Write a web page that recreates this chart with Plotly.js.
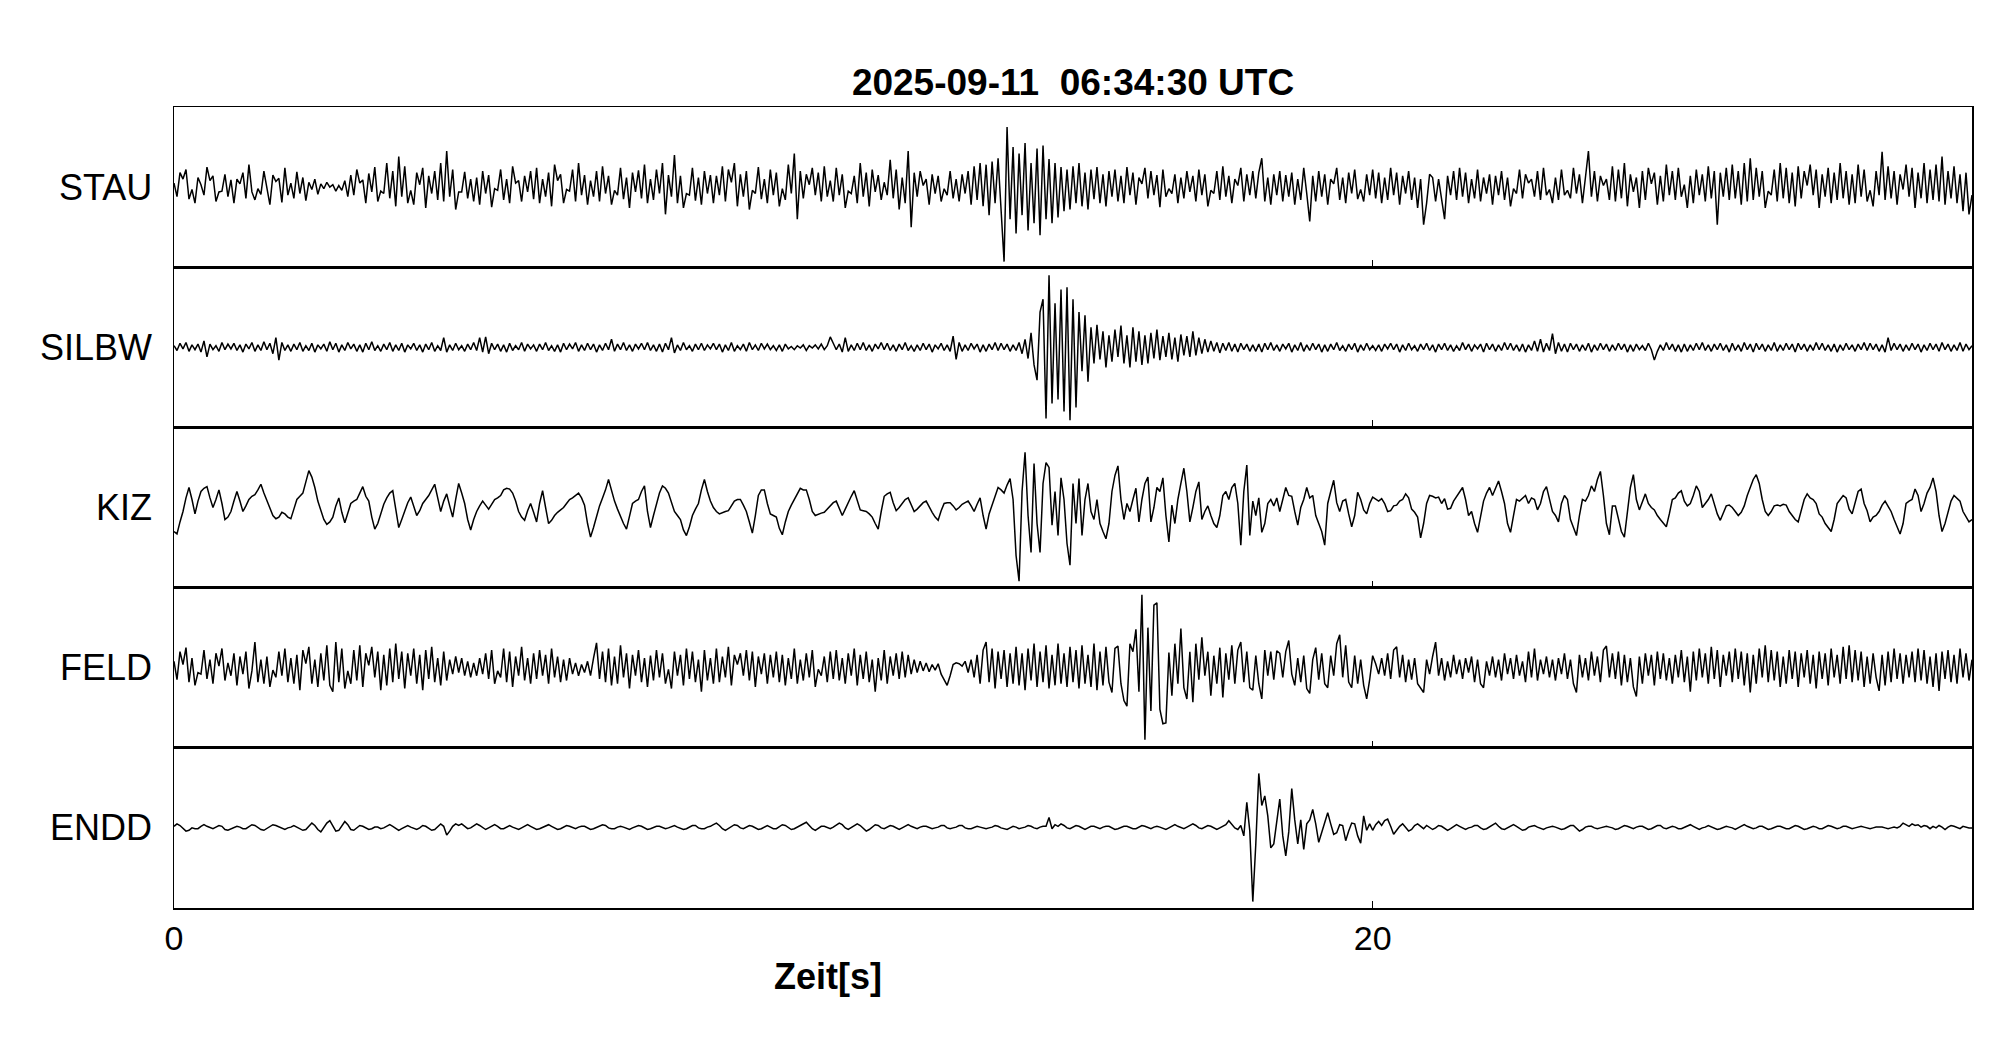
<!DOCTYPE html>
<html>
<head>
<meta charset="utf-8">
<script src="https://cdn.plot.ly/plotly-3.0.1.min.js"></script>
<style>html,body{margin:0;padding:0;background:#fff;}#chart{width:2005px;height:1041px;}</style>
</head>
<body>
<div id="chart"></div>
<script>
// Title, station names and axis
const chartTitle = "2025-09-11\u00A0\u00A006:34:30 UTC";
const stations = ["STAU", "SILBW", "KIZ", "FELD", "ENDD"];
const xTickVals = [0, 20];
const xTickText = ["0", "20"];
const xTitle = "Zeit[s]";
const sampleInterval = 0.05; // seconds between samples
const timeSpan = [0, 30];

// Trace amplitudes (percent of half panel height), one row per second
const STAU = [
5,-12,18,10,22,-15,-3,-20,12,3,-10,25,8,14,-18,-6,-5,16,-12,9,
-20,10,4,18,-14,28,-6,-16,-2,-9,20,-3,-22,15,7,11,-19,24,-10,5,
-14,19,-8,12,-17,6,-3,10,-9,4,-2,6,0,3,-5,2,-4,8,-12,15,
-10,22,5,9,-20,17,-6,25,-18,-5,-8,30,-14,20,-24,38,-12,26,-20,-4,
-22,18,3,24,-26,14,-8,20,-16,30,-18,45,-12,22,-28,-6,-6,19,-14,10,
-18,12,-22,20,-8,15,-25,-2,-4,22,-16,10,-20,26,5,8,-18,14,-6,20,
-15,24,-20,10,-12,18,-24,28,8,16,-20,-3,-5,22,-18,30,-10,15,-22,8,
-12,20,-18,26,-8,14,-22,-4,-10,24,-15,12,-26,18,-6,21,-14,28,-20,10,
-16,22,-8,30,-34,15,-12,40,-20,14,-26,-8,-10,24,-17,12,-22,20,-8,15,
-20,14,-10,26,-18,22,6,30,-24,16,-12,20,-28,-4,-8,25,-15,10,-20,22,
-10,18,-24,-2,-16,28,-8,42,-40,20,-14,16,3,24,-10,18,-18,26,-12,8,
-18,24,-10,16,-26,-5,-8,14,-20,30,-12,18,-24,22,-6,15,-16,6,-10,34,
-14,22,-28,12,-20,45,-50,18,-12,20,2,10,-22,16,-8,14,-18,-2,-10,20,
-14,10,-18,16,-8,20,-22,26,-16,30,-24,28,-35,32,-20,36,-30,-93,75,-40,
50,-58,42,-35,55,-54,30,-45,48,-60,52,-40,35,-45,30,-38,25,-30,22,-28,
26,-20,30,-24,18,-28,22,-15,25,-20,16,-24,20,-12,22,-18,14,-20,25,-10,
18,-22,12,4,24,-14,20,-10,15,-25,22,-12,-2,-8,16,-20,12,-14,20,-6,
14,-18,22,-10,16,-24,-4,-8,20,-16,26,-12,14,-20,10,2,24,-18,16,-10,
20,-14,18,36,-18,12,-22,16,-10,20,-18,15,-12,18,-22,10,-16,24,-8,-43,
14,-18,20,-12,16,-22,10,4,24,-16,12,-20,18,-8,22,-15,-3,-18,16,-10,
22,-14,18,-20,12,-16,24,-10,18,-22,14,-8,20,-16,12,-26,10,-47,-20,16,
12,-18,10,-14,-40,14,-10,20,-16,24,-12,18,-20,10,-14,22,-18,12,-8,16,
-22,14,-10,20,-16,12,-24,-2,-8,22,-14,16,5,10,-12,20,-16,24,-10,-3,
-20,12,-16,22,-10,-4,-14,24,-8,16,-20,12,45,-12,20,-18,14,2,10,-16,
26,-18,22,-14,30,-24,16,-6,12,-26,20,-16,24,4,18,-22,14,-18,28,-10,
20,-16,24,-12,3,-26,14,-20,22,-10,16,-18,26,-14,20,-47,18,-12,24,-16,
28,-14,20,-22,30,-18,36,-16,24,-12,20,-26,-5,-10,22,-18,30,-14,24,-20,
18,-24,26,-14,20,2,28,-10,22,-26,16,-12,24,-20,18,-16,30,-14,20,-22,
16,-20,28,-12,22,-18,-4,-24,20,-10,44,-16,26,-14,20,-22,16,-3,28,-12,
24,-26,18,-14,30,-20,22,-16,28,-18,38,-22,20,-14,26,-20,16,-30,18,-34,
-10];

const SILBW = [
2,-4,5,-2,6,-5,3,-3,4,-6,8,-12,4,-3,2,-5,6,-3,4,-2,
5,-4,3,-6,4,-2,6,-5,3,-4,7,-3,5,-8,12,-16,6,-4,3,-5,
4,-3,6,-5,2,-4,5,-6,3,-2,4,-5,7,-3,5,-6,3,-4,6,-2,
4,-5,3,-6,5,-3,7,-4,2,-5,4,-3,6,-5,3,-4,5,-6,3,-2,
5,-4,3,-6,4,-3,6,-5,2,-4,12,-6,3,-4,5,-3,2,-5,4,-3,
6,-4,12,-6,13,-8,5,-3,4,-5,3,-6,5,-4,2,-3,6,-5,4,-2,
3,-5,4,-3,6,-4,2,-5,3,-6,5,-3,4,-2,6,-5,3,-4,5,-3,
4,-6,3,-4,5,-3,10,-5,4,-3,6,-4,3,-5,4,-2,5,-3,6,-4,
3,-5,4,-6,5,-3,12,-7,3,-4,6,-3,2,-5,4,-3,5,-4,3,-2,
5,-3,4,-6,3,-4,6,-5,2,-3,4,-5,6,-3,3,-4,5,-2,4,-3,
2,-4,3,-5,4,-2,1,-3,2,-1,3,-4,2,-1,3,-2,4,-3,2,13,
5,-3,4,-6,12,-5,3,-4,5,-3,6,-4,3,-5,4,-2,6,-3,5,-4,
3,-5,4,-3,6,-4,2,-5,3,-4,5,-3,4,-6,3,-2,5,-4,3,-5,
14,-15,6,-5,3,-4,5,-2,4,-6,3,-5,4,-3,6,-4,5,-3,4,-5,
3,-4,6,-8,10,-14,18,-22,-41,44,60,-89,90,-70,55,-65,72,-80,75,-91,
60,-75,44,-30,40,-43,25,-20,28,-15,20,-25,15,-18,22,-12,27,-20,15,-25,
25,-18,20,-22,15,-20,18,-14,22,-16,14,-12,18,-15,12,-18,16,-10,14,-12,
20,-10,12,-8,10,-6,8,-5,6,-7,5,-4,6,-5,4,-6,5,-3,4,-5,
3,-5,4,-6,5,-3,6,-4,3,-5,4,-2,5,-6,3,-4,6,-5,3,-4,
5,-3,4,-6,3,-5,4,-3,6,-4,2,-5,4,-3,5,-6,3,-4,5,-3,
2,-4,3,-5,4,-2,5,-3,4,-6,3,-4,5,-3,2,-5,4,-3,5,-4,
3,-6,4,-3,5,-4,3,-5,2,-4,6,-3,4,-5,3,-2,4,-6,5,-3,
4,-5,3,-4,6,-3,5,-4,3,-5,4,-6,3,-4,8,-5,10,-6,5,-4,
17,-8,6,-5,4,-6,5,-3,4,-5,3,-4,5,-6,3,-4,5,-3,4,-5,
3,-4,5,-3,4,-6,3,-5,4,-3,2,-4,5,-3,-16,-5,3,-4,6,-3,
4,-5,3,-6,4,-5,3,-4,5,-3,6,-4,3,-5,4,-3,5,-4,3,-6,
5,-4,3,-5,6,-3,4,-6,5,-3,4,-5,3,-4,6,-5,3,-4,5,-3,
4,-6,5,-3,4,-5,3,-4,6,-3,5,-4,3,-5,4,-6,3,-4,5,-3,
3,-5,4,-3,6,-4,5,-3,4,-5,3,-6,12,-4,5,-3,4,-5,3,-4,
5,-3,4,-6,3,-4,5,-3,4,-5,6,-3,4,-5,3,-4,6,-5,4,-3,
2];

const KIZ = [
-30,-33,-18,-5,12,25,10,-8,8,20,24,26,12,0,10,22,5,-15,-12,-5,
8,20,8,-5,2,10,14,16,22,29,18,8,-2,-10,-14,-12,-6,-8,-12,-14,
-2,10,14,18,32,46,38,25,8,-5,-15,-21,-18,-12,2,12,-6,-19,-8,5,
8,10,18,26,14,8,-12,-27,-20,-8,4,12,18,21,-5,-25,-15,-5,6,13,
2,-10,-4,5,10,15,22,29,12,-5,8,17,2,-12,10,30,18,5,-15,-28,
-15,-5,2,8,3,-2,4,10,12,15,22,24,23,18,8,-5,-12,-16,-4,5,
-6,-18,5,21,0,-20,-16,-10,-6,-3,0,5,10,12,15,18,12,3,-20,-37,
-25,-10,2,12,22,35,20,8,-2,-12,-20,-27,-10,5,8,10,20,27,-5,-25,
-10,5,18,27,24,18,6,-5,-10,-15,-28,-35,-24,-10,-2,5,22,35,20,8,
0,-5,-8,-6,-5,-4,2,8,10,10,3,-5,-18,-32,-10,15,22,22,5,-8,
-10,-12,-26,-34,-18,-5,3,10,18,24,22,22,10,-5,-10,-8,-7,-6,-2,2,
6,8,-2,-10,-2,5,14,21,8,-3,-4,-5,-8,-12,-20,-27,-5,14,17,19,
6,-4,0,5,10,12,4,-5,-2,2,6,8,0,-6,-12,-16,-4,5,6,6,
2,-3,0,4,6,8,2,-5,4,12,-10,-27,-8,4,15,25,22,18,28,36,
10,-60,-92,20,69,-10,-56,55,-20,-56,30,56,50,-22,20,-35,37,10,-45,-72,
30,-20,36,-35,10,30,-5,-15,10,-20,-30,-39,-20,20,40,52,10,-15,5,-5,
10,24,-18,10,30,38,-18,0,25,20,37,-10,-43,3,-20,10,30,49,20,-18,
0,20,32,-15,-5,2,-10,-20,-25,-10,15,20,10,25,30,5,-47,20,53,-35,
8,-10,12,-31,-20,5,10,2,12,-5,10,25,15,14,-5,-22,0,10,25,12,
15,-10,-20,-30,-47,5,20,34,6,-5,8,10,-8,-24,-10,19,10,-3,-8,5,
13,10,8,11,5,-5,-4,2,3,8,10,17,12,-2,-6,-12,-38,-20,5,15,
14,12,13,5,11,-2,-1,8,14,20,25,10,-10,-5,-20,-31,-10,8,18,25,
15,25,33,20,5,-20,-31,-10,10,8,12,15,5,12,10,-3,5,20,26,10,
-5,-10,-18,5,15,10,-15,-25,-35,-10,10,8,15,27,20,35,45,15,-20,-34,
2,2,-15,-30,-37,-5,25,41,10,-3,8,17,5,0,-3,-10,-15,-20,-24,-8,
10,12,18,21,8,2,5,15,27,20,0,5,10,17,5,-8,-16,-8,2,3,
0,-5,-10,-6,2,15,25,35,41,30,10,-5,-10,-5,2,3,2,4,3,-5,
-10,-15,-18,-5,10,17,12,10,5,-8,-12,-20,-25,-30,-15,5,10,15,12,-2,
-8,5,20,23,5,-4,-18,-12,-10,-5,3,8,2,-5,-15,-25,-33,-20,5,8,
10,23,15,-5,5,18,25,37,20,-10,-30,-20,-5,8,15,12,8,-5,-12,-18,
-15];

const FELD = [
8,-15,20,4,25,-18,12,-22,-6,-8,22,-14,10,-20,18,2,24,-16,6,-10,
18,-22,14,-8,20,-26,-4,32,-18,10,-20,14,-24,-3,-12,20,-10,24,-18,12,
-20,16,-28,22,5,26,-20,10,-24,18,-16,28,-22,-30,32,-18,24,-26,-4,-20,
22,-16,28,-24,18,3,26,-12,20,-28,16,-22,24,-18,30,-14,20,-26,18,-10,
24,-20,16,-28,22,-14,26,-18,12,-22,20,-16,10,-8,14,-6,12,-10,8,-12,
6,-10,12,-8,18,-14,22,-20,-4,-12,24,-18,20,-24,14,-10,26,-16,12,-20,
18,-14,22,-10,16,-20,24,-12,14,-18,10,-16,12,-8,6,-10,4,-6,8,-10,
12,31,-14,20,-18,24,-22,14,-20,28,-12,18,-26,16,-10,22,-18,12,-24,15,
-16,22,-12,18,-20,-2,-26,20,-10,16,-22,24,-14,20,-18,10,-30,22,-16,12,
-20,24,-18,14,-12,26,-22,16,4,18,-10,22,-16,20,-24,14,-8,18,-20,16,
-12,20,-18,16,-22,12,-14,24,-20,10,-16,18,-12,22,-24,-2,-10,14,-18,20,
-14,22,-16,12,-20,18,-10,24,-22,16,-14,20,-18,10,-30,12,-16,22,-20,14,
-10,18,-14,20,-12,16,-8,10,-6,8,-4,6,-5,4,-3,5,-8,-15,-22,-10,
4,6,5,2,8,-6,10,-12,16,-20,22,32,-18,24,-26,20,-14,22,-24,18,
-20,26,-22,18,-28,24,-16,30,-24,20,-18,28,-26,16,-22,30,-20,18,-24,26,
-18,22,-26,28,-20,16,-24,30,-28,20,-22,26,-18,-31,24,27,-20,-41,-48,30,
20,48,-30,91,-90,50,-54,78,81,-52,-70,-69,19,-35,30,-20,49,-25,-39,20,
-43,30,-15,38,-10,20,-35,15,-20,25,-37,18,-15,28,-20,22,32,-18,20,-25,
-28,15,-20,-39,22,-10,20,-15,21,18,-12,20,34,-8,-22,12,-18,15,-26,-32,
10,25,-15,18,-20,-25,15,-10,30,41,-12,28,-18,-25,15,-20,10,-22,-39,-15,
15,5,-8,12,-10,18,-14,22,26,-12,16,-18,10,-15,12,-20,-26,-31,10,-8,
14,32,-10,12,-16,8,-12,16,-8,10,-14,12,-6,14,-18,10,-20,-25,8,-10,
14,-12,10,-16,18,-8,12,-14,16,-10,8,-18,20,-12,24,-16,10,-8,14,-12,
10,-16,12,-8,18,-14,10,-20,-31,16,-12,12,-16,20,-10,14,-18,22,27,-12,
18,-14,20,-22,16,-18,12,-24,-36,14,-20,18,-10,16,-22,20,-14,18,-16,12,
-20,16,-12,22,-18,14,-30,20,-16,24,-12,18,-20,26,-14,22,-24,16,-10,20,
-18,24,-14,20,-22,18,-31,16,-20,24,-12,28,-18,22,-16,20,-24,14,-20,22,
-14,20,-24,18,-12,22,-20,16,-26,20,-14,18,-22,24,-12,16,-20,26,-14,28,
-18,22,-16,20,-24,14,-20,18,-12,-29,16,-22,20,-18,24,-14,18,-20,16,-12,
20,-18,24,-16,22,-20,14,-24,18,-29,20,-14,22,-18,16,-20,24,-12,18,-16,
10];

const ENDD = [
2,5,3,0,-4,-3,0,-1,-1,2,4,2,0,-1,1,3,2,-2,-3,-1,
1,2,1,-1,-1,2,4,3,0,-2,-3,-1,1,4,3,1,-1,-2,0,1,
3,1,-1,-3,-2,2,6,3,-2,-5,0,6,9,2,-4,-3,3,8,4,-2,
-3,0,3,2,0,-2,-1,1,1,-1,0,2,4,2,-1,-3,-1,1,3,1,
-1,-2,0,3,2,0,-3,-2,2,5,2,-9,-4,2,5,3,5,2,-1,0,
3,5,3,0,-2,0,2,4,2,-1,-1,1,3,1,-1,-2,0,2,4,2,
0,-2,-1,1,2,4,2,0,-2,-1,1,3,2,0,-1,1,2,2,0,-2,
-1,1,2,4,3,0,-1,-1,1,2,1,-1,-2,0,2,3,2,0,-2,-1,
1,2,2,0,-1,0,2,3,1,-1,-2,-1,1,3,3,0,-1,-1,1,2,
4,6,3,-1,-3,-1,1,4,3,0,-1,1,3,2,0,-2,-1,1,3,1,
-1,-1,1,4,3,0,-2,-1,1,3,5,7,3,-1,-3,0,2,2,0,-1,
1,4,6,4,0,-2,0,3,5,3,-1,-4,-2,1,4,3,0,-1,1,3,
2,0,-2,0,2,4,2,0,-1,1,2,2,0,-1,0,1,3,3,0,-1,
0,1,3,3,0,-1,-1,1,2,1,0,-1,0,1,3,2,0,-1,-2,0,
2,1,-1,0,1,3,2,0,-1,1,2,2,13,-1,4,2,5,3,0,-1,
1,3,2,0,-2,0,2,2,0,-1,1,2,2,0,-2,-1,1,2,2,0,
-1,-1,1,3,2,0,-1,1,2,1,-1,-2,0,2,4,2,0,-1,1,3,
5,3,0,-1,1,3,2,0,-2,0,2,4,9,4,0,-2,3,-10,32,-4,
-92,-20,68,28,40,15,-25,-20,10,36,-10,-35,-5,49,10,-20,10,-27,5,10,
23,5,-18,-5,8,19,5,-8,-6,4,3,-16,-4,6,5,-10,-19,15,-3,5,
-3,4,8,3,9,11,2,-8,-3,2,5,1,-4,-2,3,5,2,-1,3,0,
-2,0,3,2,-1,-3,-1,2,4,2,0,-2,0,1,3,3,0,-2,-1,1,
3,6,2,-1,-2,0,2,4,2,0,-3,-2,1,2,3,1,-1,-2,0,1,
2,1,-1,-2,-1,1,3,3,0,-4,-2,1,2,2,0,-1,0,1,2,1,
0,-2,-1,1,3,2,0,-1,1,2,2,0,-2,-1,1,3,3,0,-1,1,
2,1,-1,-1,1,2,4,2,0,-2,0,1,3,1,-1,-2,-1,1,2,1,
0,-2,0,2,4,2,0,-1,0,2,2,0,-2,-1,1,2,2,0,-1,-1,
1,3,2,0,-2,-1,1,2,1,-1,-1,1,3,2,0,-1,0,2,2,0,
-1,0,1,2,1,0,-1,0,1,1,1,0,-1,0,1,0,2,6,4,2,
5,3,4,1,3,2,-1,2,0,3,1,-2,1,3,2,0,-1,2,1,0,
0];

const seriesList = [STAU, SILBW, KIZ, FELD, ENDD];

const FONT = "Liberation Sans, Arial, Helvetica, sans-serif";
const n = stations.length;
const data = [];
const layout = {
  width: 2005, height: 1041,
  margin: {l: 174, r: 33, t: 107, b: 133},
  paper_bgcolor: "#ffffff", plot_bgcolor: "#ffffff",
  showlegend: false,
  font: {family: FONT, color: "#000000"},
  title: {
    text: "<b>" + chartTitle + "</b>",
    font: {family: FONT, size: 37, color: "#000000"},
    xref: "paper", x: 0.5, xanchor: "center",
    yref: "container", y: 1 - 82 / 1041, yanchor: "middle"
  },
  annotations: []
};

seriesList.forEach((vals, i) => {
  const k = i === 0 ? "" : String(i + 1);
  const t = vals.map((_, j) => j * sampleInterval);
  data.push({
    type: "scatter", mode: "lines",
    x: t, y: vals,
    xaxis: "x" + k, yaxis: "y" + k,
    line: {color: "#000000", width: 1.5},
    hoverinfo: "skip"
  });
  const top = 1 - i / n, bottom = 1 - (i + 1) / n;
  layout["yaxis" + k] = {
    domain: [bottom, top], range: [-100, 100], anchor: "x" + k,
    showticklabels: false, ticks: "", showgrid: false, zeroline: false,
    showline: true, linecolor: "#000000", linewidth: 1.5, mirror: true, fixedrange: true
  };
  layout["xaxis" + k] = {
    range: timeSpan, anchor: "y" + k,
    tickmode: "array", tickvals: xTickVals, ticktext: xTickText,
    ticks: "inside", ticklen: 7, tickwidth: 1.5, tickcolor: "#000000",
    showticklabels: i === n - 1,
    tickfont: {family: FONT, size: 34, color: "#000000"},
    showgrid: false, zeroline: false,
    showline: true, linecolor: "#000000", linewidth: 1.5, mirror: true, fixedrange: true
  };
  if (i > 0) layout["xaxis" + k].matches = "x";
  layout.annotations.push({
    text: stations[i], xref: "paper", yref: "paper",
    x: 0, y: (top + bottom) / 2, xanchor: "right", yanchor: "middle",
    xshift: -20, showarrow: false,
    font: {family: FONT, size: 36, color: "#000000"}
  });
});

layout.annotations.push({
  text: "<b>" + xTitle + "</b>", xref: "paper", yref: "paper",
  x: (828 - 174) / 1798, y: 0, xanchor: "center", yanchor: "middle",
  yshift: -68, showarrow: false,
  font: {family: FONT, size: 36, color: "#000000"}
});

Plotly.newPlot("chart", data, layout, {displayModeBar: false, staticPlot: true});
</script>
</body>
</html>
